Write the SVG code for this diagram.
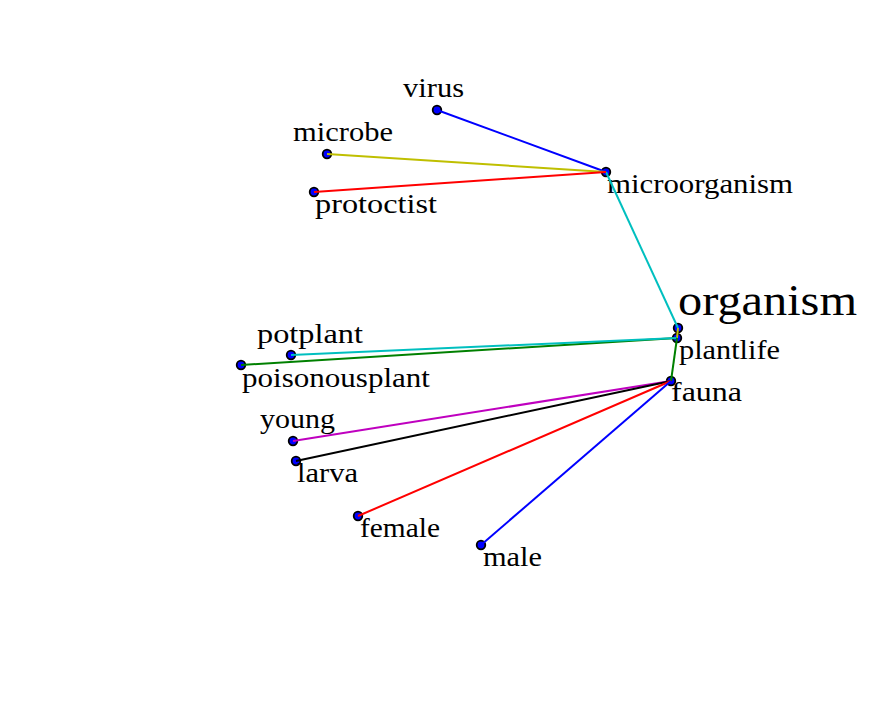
<svg xmlns="http://www.w3.org/2000/svg" width="873" height="701" viewBox="0 0 873 701">
<style>
.n circle{fill:#0000ff;stroke:#000;stroke-width:1.8}
text{font-family:"Liberation Serif","DejaVu Serif",serif;font-size:28px;fill:#000}
text.big{font-size:45px}
.e line{stroke-width:2;fill:none}
</style>
<rect width="873" height="701" fill="#fff"/>
<g id="nodes" class="n">
<g id="organism"><circle cx="678" cy="328" r="4.3"/><text class="big" x="678" y="315" textLength="179" lengthAdjust="spacingAndGlyphs">organism</text></g>
<g id="plantlife"><circle cx="677" cy="338" r="4.3"/><text x="679" y="359" textLength="101" lengthAdjust="spacingAndGlyphs">plantlife</text></g>
<g id="fauna"><circle cx="671" cy="381" r="4.3"/><text x="671" y="401" textLength="71" lengthAdjust="spacingAndGlyphs">fauna</text></g>
<g id="microorganism"><circle cx="606" cy="172" r="4.3"/><text x="607" y="193" textLength="186" lengthAdjust="spacingAndGlyphs">microorganism</text></g>
<g id="virus"><circle cx="437" cy="110" r="4.3"/><text x="403" y="97" textLength="61" lengthAdjust="spacingAndGlyphs">virus</text></g>
<g id="microbe"><circle cx="327" cy="154" r="4.3"/><text x="293" y="141" textLength="100" lengthAdjust="spacingAndGlyphs">microbe</text></g>
<g id="protoctist"><circle cx="314" cy="192" r="4.3"/><text x="315" y="213" textLength="122" lengthAdjust="spacingAndGlyphs">protoctist</text></g>
<g id="potplant"><circle cx="291" cy="355" r="4.3"/><text x="257" y="343" textLength="106" lengthAdjust="spacingAndGlyphs">potplant</text></g>
<g id="poisonousplant"><circle cx="241" cy="365" r="4.3"/><text x="242" y="387" textLength="188" lengthAdjust="spacingAndGlyphs">poisonousplant</text></g>
<g id="young"><circle cx="293" cy="441" r="4.3"/><text x="260" y="428" textLength="75" lengthAdjust="spacingAndGlyphs">young</text></g>
<g id="larva"><circle cx="296" cy="461" r="4.3"/><text x="297" y="482" textLength="61" lengthAdjust="spacingAndGlyphs">larva</text></g>
<g id="female"><circle cx="358" cy="516" r="4.3"/><text x="360" y="537" textLength="80" lengthAdjust="spacingAndGlyphs">female</text></g>
<g id="male"><circle cx="481" cy="545" r="4.3"/><text x="483" y="566" textLength="59" lengthAdjust="spacingAndGlyphs">male</text></g>
</g>
<g id="edges" class="e">
<line x1="678" y1="328" x2="606" y2="172" stroke="#00bfbf"/>
<line x1="437" y1="110" x2="606" y2="172" stroke="#0000ff"/>
<line x1="327" y1="154" x2="606" y2="172" stroke="#bfbf00"/>
<line x1="314" y1="192" x2="606" y2="172" stroke="#ff0000"/>
<line x1="678" y1="328" x2="677" y2="338" stroke="#bfbf00"/>
<line x1="677" y1="338" x2="241" y2="365" stroke="#008000"/>
<line x1="677" y1="338" x2="291" y2="355" stroke="#00bfbf"/>
<line x1="677" y1="338" x2="671" y2="381" stroke="#008000"/>
<line x1="671" y1="381" x2="293" y2="441" stroke="#bf00bf"/>
<line x1="671" y1="381" x2="296" y2="461" stroke="#000000"/>
<line x1="671" y1="381" x2="358" y2="516" stroke="#ff0000"/>
<line x1="671" y1="381" x2="481" y2="545" stroke="#0000ff"/>
</g>
</svg>
